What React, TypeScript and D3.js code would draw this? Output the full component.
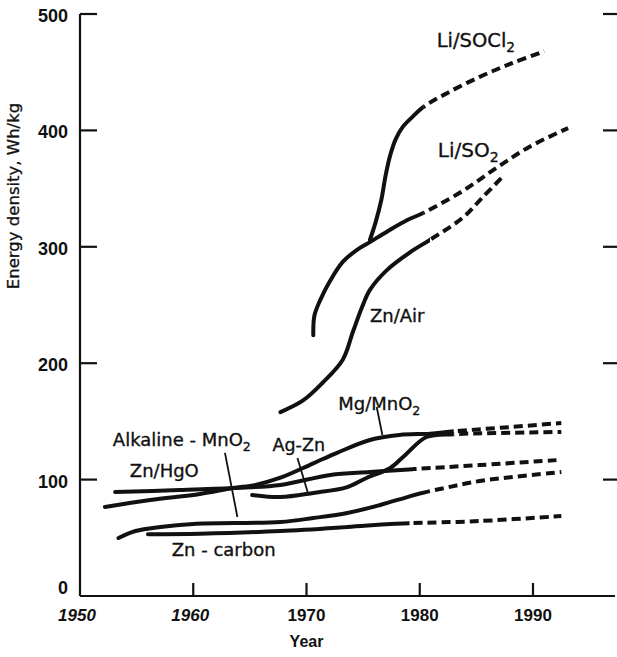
import React from "react";
import * as d3 from "d3";

const W = 617;
const H = 657;

const xTicks = [1950, 1960, 1970, 1980, 1990];
const xTickItalic = [true, true, false, false, false];
const yTicks = [0, 100, 200, 300, 400, 500];

// Li/SOCl2 (branches off Li/SO2 around 1975.6)
const liSOCl2Years = [1975.6, 1976.1, 1976.6, 1977.0, 1977.4, 1977.9, 1978.5, 1979.4, 1980.3, 1982.4, 1985.3, 1988.2, 1991.0];
const liSOCl2Values = [306, 321, 340, 362, 379, 393, 403, 412, 420, 432, 446, 458, 468];
const liSOCl2DashFrom = 8;

const liSO2Years = [1970.6, 1970.7, 1971.2, 1972.1, 1973.2, 1974.4, 1975.6, 1977.1, 1978.9, 1980.3, 1983.8, 1986.8, 1989.7, 1993.1];
const liSO2Values = [224, 241, 254, 271, 287, 297, 304, 313, 323, 329, 348, 368, 386, 402];
const liSO2DashFrom = 9;

const znAirYears = [1967.7, 1969.7, 1971.4, 1973.2, 1974.1, 1974.9, 1975.6, 1977.1, 1979.1, 1980.9, 1983.8, 1985.6, 1987.3];
const znAirValues = [158, 168, 183, 203, 227, 248, 263, 280, 295, 306, 325, 343, 360];
const znAirDashFrom = 9;

const znHgOYears = [1953.1, 1958.8, 1963.5, 1967.7, 1972.1, 1975.6, 1979.4, 1985.3, 1992.5];
const znHgOValues = [89.3, 91, 92.8, 95.4, 104, 106.5, 109, 112.5, 117];
const znHgODashFrom = 6;

const mgMnO2Years = [1952.2, 1956.2, 1960.6, 1963.5, 1965.5, 1967.7, 1970.6, 1972.7, 1975.6, 1978.2, 1980.9, 1983.0, 1987.1, 1992.5];
const mgMnO2Values = [76.5, 82.5, 87.6, 92.8, 95.5, 101.6, 114, 123, 134, 138.3, 139.5, 141.5, 144.5, 148.6];
const mgMnO2DashFrom = 11;

const agZnYears = [1965.2, 1967.7, 1970.6, 1973.6, 1975.3, 1977.4, 1978.7, 1980.6, 1983.0, 1987.1, 1992.5];
const agZnValues = [86.8, 85, 88.5, 93.6, 101.4, 110, 121, 136.6, 139, 140, 141];
const agZnDashFrom = 8;

const alkalineYears = [1953.4, 1954.9, 1957.1, 1960.0, 1967.7, 1970.6, 1973.6, 1976.5, 1978.9, 1980.2, 1982.4, 1985.3, 1992.5];
const alkalineValues = [49.8, 55.8, 59.3, 61.9, 63.6, 67, 71.3, 78.2, 85, 88.5, 93.2, 98.8, 106.5];
const alkalineDashFrom = 9;

const znCarbonYears = [1956.0, 1960.6, 1967.7, 1973.6, 1977.4, 1979.1, 1985.3, 1992.5];
const znCarbonValues = [53, 53.5, 55.8, 59.3, 61.9, 62.5, 64.4, 68.7];
const znCarbonDashFrom = 5;

// Curve labels
const labelTexts = ["Li/SOCl", "Li/SO", "Zn/Air", "Mg/MnO", "Ag-Zn", "Alkaline - MnO", "Zn/HgO", "Zn - carbon"];
const labelSubs = ["2", "2", "", "2", "", "2", "", ""];
const labelYears = [1981.5, 1981.6, 1975.6, 1972.8, 1967.0, 1952.9, 1954.4, 1958.1];
const labelValues = [471.6, 377, 235.4, 159.8, 124.6, 128.9, 102.2, 34.4];
const labelSizes = [19.5, 20, 18, 18, 17.5, 18, 18, 18];

// Leader lines from labels to curves
const leaderYears1 = [1962.8, 1969.2, 1976.2];
const leaderValues1 = [122.9, 118.6, 162.4];
const leaderYears2 = [1963.9, 1970.1, 1976.7];
const leaderValues2 = [67.9, 89.3, 138.3];

const seriesList = [
  { y: liSOCl2Years, v: liSOCl2Values, d: liSOCl2DashFrom },
  { y: liSO2Years, v: liSO2Values, d: liSO2DashFrom },
  { y: znAirYears, v: znAirValues, d: znAirDashFrom },
  { y: znHgOYears, v: znHgOValues, d: znHgODashFrom },
  { y: mgMnO2Years, v: mgMnO2Values, d: mgMnO2DashFrom },
  { y: agZnYears, v: agZnValues, d: agZnDashFrom },
  { y: alkalineYears, v: alkalineValues, d: alkalineDashFrom },
  { y: znCarbonYears, v: znCarbonValues, d: znCarbonDashFrom },
];

export default function App() {
  const x = d3.scaleLinear().domain([1950, 1990]).range([80, 533]);
  const y = d3.scaleLinear().domain([0, 500]).range([596, 14]);
  const line = d3
    .line<[number, number]>()
    .x((p) => x(p[0]))
    .y((p) => y(p[1]))
    .curve(d3.curveCatmullRom.alpha(0.5));

  const ink = "#111";
  const labelFont = "'DejaVu Sans', sans-serif";
  const axisFont = "'Liberation Sans', Arial, sans-serif";

  return (
    <svg
      width={W}
      height={H}
      viewBox={`0 0 ${W} ${H}`}
      style={{ position: "absolute", left: 0, top: 0, background: "#fff" }}
    >
      <defs>
        {seriesList.map((s, i) => {
          const sx = x(s.y[s.d]);
          return (
            <React.Fragment key={"cp" + i}>
              <clipPath id={`solid-${i}`}>
                <rect x={0} y={0} width={sx} height={H} />
              </clipPath>
              <clipPath id={`dash-${i}`}>
                <rect x={sx} y={0} width={W - sx} height={H} />
              </clipPath>
            </React.Fragment>
          );
        })}
      </defs>
      <rect x={0} y={0} width={W} height={H} fill="#fff" />
      {/* axes */}
      <line x1={x(1950)} x2={x(1950)} y1={y(500)} y2={y(0)} stroke={ink} strokeWidth={2.2} />
      <line x1={x(1950)} x2={W - 2} y1={y(0)} y2={y(0)} stroke={ink} strokeWidth={2.2} />
      {yTicks.filter((t) => t > 0).map((t) => (
        <g key={"yt" + t}>
          <line x1={x(1950)} x2={x(1950) + 17} y1={y(t)} y2={y(t)} stroke={ink} strokeWidth={2.2} />
          <line x1={W - 14} x2={W} y1={y(t)} y2={y(t)} stroke={ink} strokeWidth={2.2} />
        </g>
      ))}
      {yTicks.map((t) => (
        <text
          key={"yl" + t}
          x={68}
          y={t === 0 ? y(t) - 2 : y(t) + 8}
          textAnchor="end"
          fontFamily={axisFont}
          fontWeight="bold"
          fontSize={18}
          fill={ink}
        >
          {t}
        </text>
      ))}
      {xTicks.filter((t) => t > 1950).map((t) => (
        <line key={"xt" + t} x1={x(t)} x2={x(t)} y1={y(0)} y2={y(0) - 13} stroke={ink} strokeWidth={2.2} />
      ))}
      {xTicks.map((t, i) => (
        <text
          key={"xl" + t}
          x={x(t) - (xTickItalic[i] ? 3 : 0)}
          y={621}
          textAnchor="middle"
          fontFamily={axisFont}
          fontWeight="bold"
          fontStyle={xTickItalic[i] ? "italic" : "normal"}
          fontSize={17}
          fill={ink}
        >
          {t}
        </text>
      ))}
      <text x={x(1970)} y={647} textAnchor="middle" fontFamily={axisFont} fontWeight="bold" fontSize={16} fill={ink}>
        Year
      </text>
      <text
        transform={`translate(19,196) rotate(-90)`}
        textAnchor="middle"
        fontFamily={labelFont}
        fontSize={16.5}
        fill={ink}
        stroke={ink}
        strokeWidth={0.3}
      >
        Energy density, Wh/kg
      </text>

      {/* curves: one smooth path per series, solid before the split year and dashed after */}
      {seriesList.map((s, i) => {
        const pts: [number, number][] = s.y.map((yr, j) => [yr, s.v[j]]);
        const d = line(pts) || "";
        return (
          <g key={"s" + i} fill="none" stroke={ink} strokeLinejoin="round">
            <path d={d} strokeWidth={4} strokeLinecap="round" clipPath={`url(#solid-${i})`} />
            <path d={d} strokeWidth={4} strokeDasharray="9 5" strokeLinecap="butt" clipPath={`url(#dash-${i})`} />
          </g>
        );
      })}

      {/* leaders */}
      {leaderYears1.map((yr, i) => (
        <line
          key={"ld" + i}
          x1={x(yr)}
          y1={y(leaderValues1[i])}
          x2={x(leaderYears2[i])}
          y2={y(leaderValues2[i])}
          stroke={ink}
          strokeWidth={1.8}
        />
      ))}

      {/* labels */}
      {labelTexts.map((t, i) => (
        <text
          key={"lb" + i}
          x={x(labelYears[i])}
          y={y(labelValues[i])}
          fontFamily={labelFont}
          fontSize={labelSizes[i]}
          fill={ink}
          stroke={ink}
          strokeWidth={0.35}
        >
          {t}
          {labelSubs[i] ? (
            <tspan dy={5} fontSize={labelSizes[i] * 0.7}>
              {labelSubs[i]}
            </tspan>
          ) : null}
        </text>
      ))}
    </svg>
  );
}
